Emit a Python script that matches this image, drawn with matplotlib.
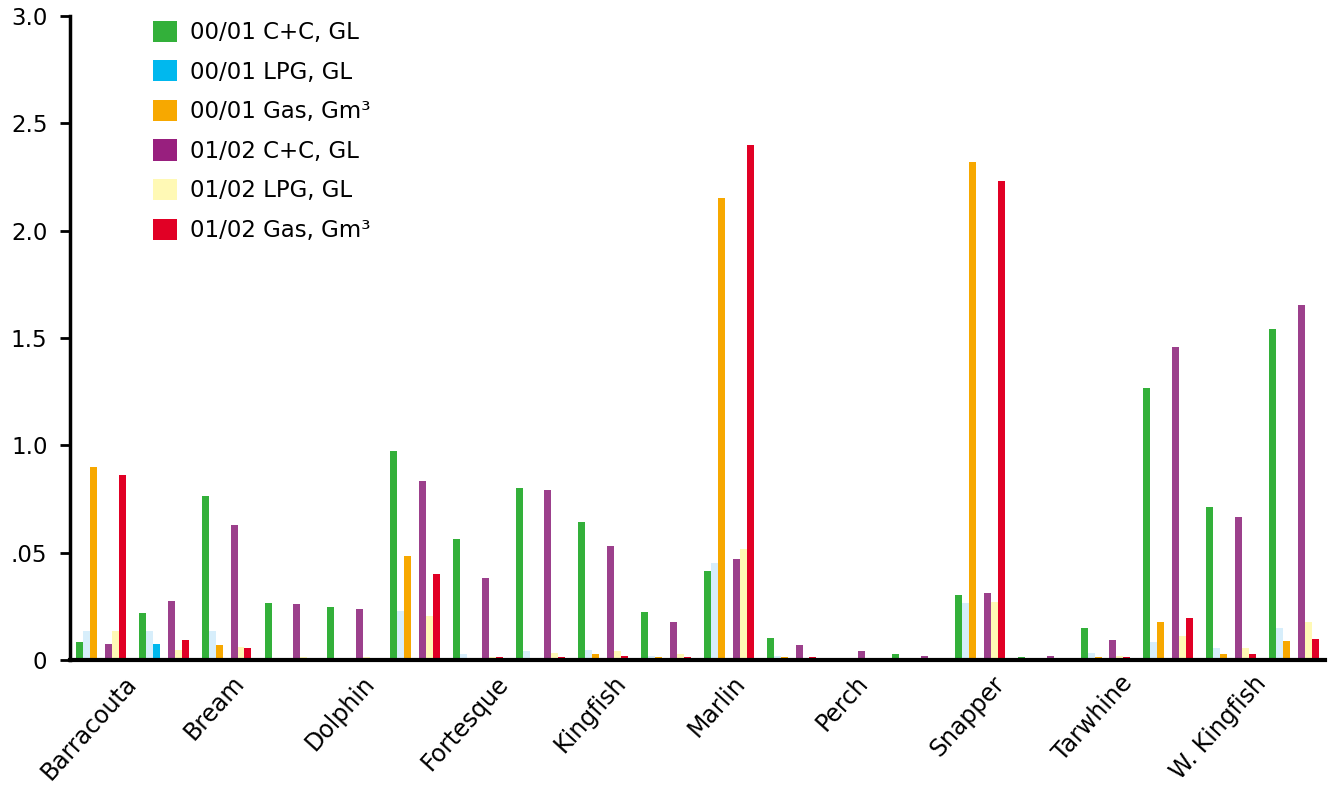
import numpy as np
import matplotlib
matplotlib.use('Agg')
import matplotlib.pyplot as plt
from matplotlib.patches import Patch

plt.rcParams['font.family'] = ['DejaVu Sans']

# 20 fields, only every other one gets a label on the axis
fields = ['Barracouta', '', 'Bream', '', 'Dolphin', '', 'Fortesque', '', 'Kingfish', '',
          'Marlin', '', 'Perch', '', 'Snapper', '', 'Tarwhine', '', 'W. Kingfish', '']

cc_0001 = [0.086, 0.217, 0.762, 0.268, 0.245, 0.976, 0.566, 0.800, 0.645, 0.226,
           0.417, 0.105, 0.000, 0.030, 0.305, 0.012, 0.147, 1.265, 0.715, 1.544]
lpg_0001 = [0.133, 0.133, 0.133, 0.010, 0.010, 0.230, 0.030, 0.044, 0.049, 0.021,
            0.450, 0.021, 0.000, 0.000, 0.268, 0.000, 0.035, 0.082, 0.058, 0.147]
gas_0001 = [0.901, 0.077, 0.068, 0.000, 0.000, 0.487, 0.000, 0.000, 0.030, 0.012,
            2.154, 0.012, 0.000, 0.000, 2.322, 0.000, 0.016, 0.175, 0.030, 0.091]
cc_0102 = [0.077, 0.277, 0.631, 0.263, 0.240, 0.836, 0.380, 0.790, 0.529, 0.179,
           0.473, 0.068, 0.040, 0.021, 0.314, 0.021, 0.095, 1.456, 0.668, 1.656]
lpg_0102 = [0.133, 0.049, 0.063, 0.016, 0.016, 0.207, 0.016, 0.035, 0.044, 0.026,
            0.519, 0.000, 0.000, 0.000, 0.272, 0.000, 0.021, 0.114, 0.058, 0.175]
gas_0102 = [0.864, 0.095, 0.054, 0.000, 0.000, 0.403, 0.016, 0.012, 0.021, 0.016,
            2.401, 0.016, 0.000, 0.000, 2.233, 0.000, 0.016, 0.198, 0.030, 0.100]

labels = ['00/01 C+C, GL', '00/01 LPG, GL', '00/01 Gas, Gm³',
          '01/02 C+C, GL', '01/02 LPG, GL', '01/02 Gas, Gm³']
legend_colors = ['#33b03a', '#00b8ee', '#f7a800', '#981f7e', '#fff9b5', '#e10025']
bar_colors = ['#33b03a', '#d7eefb', '#f7a800', '#9c408c', '#fff9b5', '#e10025']

fig = plt.figure(figsize=(13.4, 8.02), dpi=100)
ax = fig.add_axes([0.052, 0.177, 0.937, 0.803])

x = np.arange(len(fields))
w = 0.111
gap = 0.0625
offsets = [-(gap + 2.5 * w), -(gap + 1.5 * w), -(gap + 0.5 * w),
           gap + 0.5 * w, gap + 1.5 * w, gap + 2.5 * w]
series = [cc_0001, lpg_0001, gas_0001, cc_0102, lpg_0102, gas_0102]

for k, vals in enumerate(series):
    cols = [bar_colors[k]] * len(fields)
    if k == 2:
        cols[1] = legend_colors[1]  # odd blue bar in the Bream group
    ax.bar(x + offsets[k], vals, width=w, color=cols, linewidth=0)

ax.set_xlim(-0.5, 19.5)
ax.set_ylim(0, 3.0)
ax.set_yticks([0, 0.5, 1.0, 1.5, 2.0, 2.5, 3.0])
ax.set_yticklabels(['0', '.05', '1.0', '1.5', '2.0', '2.5', '3.0'])

lab_pos = [i - 0.2 for i in range(0, 20, 2)]
ax.set_xticks(lab_pos)
ax.set_xticklabels([f for f in fields if f], rotation=48, ha='center')

ax.tick_params(axis='y', length=7, width=2, labelsize=16.5, pad=9)
ax.tick_params(axis='x', length=0, labelsize=17, pad=8)
for s in ['top', 'right']:
    ax.spines[s].set_visible(False)
ax.spines['left'].set_linewidth(2.5)
ax.spines['bottom'].set_linewidth(3)

handles = [Patch(facecolor=c, edgecolor='none') for c in legend_colors]
ax.legend(handles, labels, loc='upper left', bbox_to_anchor=(0.05, 1.025),
          frameon=False, fontsize=16.5, handlelength=1.05, handleheight=1.05,
          labelspacing=0.705, handletextpad=0.55)

fig.savefig('out.png', dpi=100)
